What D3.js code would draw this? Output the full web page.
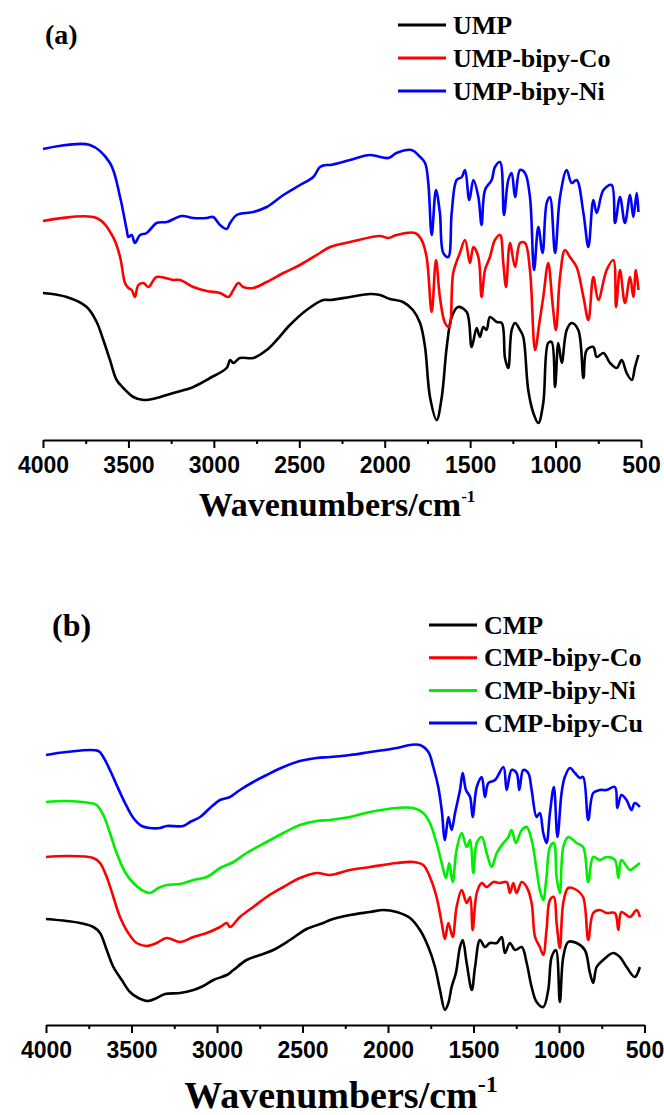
<!DOCTYPE html>
<html>
<head>
<meta charset="utf-8">
<script src="https://cdn.jsdelivr.net/npm/d3@7"></script>
<style>
  html, body { margin: 0; padding: 0; background: #fff; }
  svg { display: block; }
</style>
</head>
<body>
<svg id="chart" width="664" height="1115"></svg>
<script>
// ---------------- DATA (wavenumber cm^-1, transmittance a.u., offset traces) ----------------
const majorTicks = [4000, 3500, 3000, 2500, 2000, 1500, 1000, 500];
const minorTicks = [3750, 3250, 2750, 2250, 1750, 1250, 750];

const seriesNamesA = ["UMP", "UMP-bipy-Co", "UMP-bipy-Ni"];
const seriesColorsA = ["#000000", "#ff0000", "#0000ff"];
const seriesNamesB = ["CMP", "CMP-bipy-Co", "CMP-bipy-Ni", "CMP-bipy-Cu"];
const seriesColorsB = ["#000000", "#ff0000", "#00ee00", "#0000ff"];

// Panel (a)
const umpData = [[4000,147],[3861,143],[3744,133],[3686,118],[3647,100],[3608,80],[3569,60],[3530,52],[3471,43],[3412,40],[3335,42],[3237,47],[3120,53],[3022,62],[2925,72],[2905,80],[2886,77],[2847,82],[2769,82],[2691,90],[2632,100],[2555,115],[2457,130],[2360,140],[2320,140],[2203,143],[2086,146],[2028,145],[1969,141],[1893,138],[1835,130],[1793,117],[1764,93],[1735,43],[1696,20],[1666,43],[1637,93],[1608,123],[1571,133],[1520,128],[1491,93],[1462,112],[1443,103],[1423,113],[1404,110],[1384,123],[1345,118],[1315,117],[1296,82],[1277,72],[1257,110],[1237,117],[1208,110],[1189,103],[1160,50],[1130,27],[1101,17],[1072,37],[1043,97],[1023,98],[1003,53],[984,97],[964,77],[935,110],[906,117],[867,110],[837,62],[818,90],[779,93],[759,83],[720,87],[681,77],[642,72],[613,80],[584,67],[554,60],[535,73],[515,85]];
const umpCoData = [[4000,219],[3686,222],[3590,203],[3549,183],[3520,157],[3500,152],[3481,150],[3462,143],[3442,155],[3412,157],[3383,153],[3335,163],[3237,160],[3198,160],[3120,153],[3042,149],[2964,147],[2915,143],[2886,150],[2857,157],[2828,153],[2769,152],[2691,158],[2593,167],[2496,175],[2379,187],[2320,193],[2203,198],[2028,204],[1979,202],[1931,205],[1823,207],[1784,200],[1755,183],[1725,128],[1700,180],[1677,143],[1647,117],[1623,113],[1599,167],[1560,187],[1530,200],[1501,177],[1481,193],[1452,183],[1433,143],[1413,170],[1384,183],[1355,200],[1325,205],[1306,177],[1290,153],[1267,197],[1237,173],[1208,197],[1179,197],[1150,170],[1120,90],[1095,117],[1072,143],[1043,177],[1018,137],[998,110],[974,163],[945,190],[916,183],[877,173],[837,143],[808,120],[779,163],[750,140],[701,170],[662,180],[646,133],[623,170],[594,137],[564,163],[545,143],[530,170],[515,150]];
const umpNiData = [[4000,291],[3725,295],[3608,277],[3549,243],[3510,210],[3500,203],[3481,205],[3462,197],[3432,205],[3393,207],[3335,217],[3276,218],[3188,224],[3120,222],[3042,222],[3004,223],[2964,215],[2925,211],[2905,217],[2867,225],[2769,228],[2691,233],[2593,245],[2496,255],[2418,263],[2379,273],[2340,275],[2320,275],[2203,280],[2086,285],[1979,282],[1931,287],[1843,290],[1804,285],[1764,277],[1745,257],[1725,205],[1700,250],[1677,227],[1657,187],[1628,183],[1608,227],[1579,260],[1549,263],[1530,270],[1505,240],[1481,260],[1452,243],[1433,215],[1413,250],[1374,260],[1355,273],[1325,278],[1302,225],[1277,260],[1257,267],[1237,243],[1208,270],[1179,267],[1150,243],[1126,170],[1101,213],[1076,187],[1052,237],[1033,243],[1003,187],[974,243],[935,270],[906,257],[877,260],[837,227],[808,193],[779,240],[759,227],[720,250],[672,255],[652,217],[623,243],[594,217],[564,245],[545,223],[525,247],[515,228]];

// Panel (b)
const cmpData = [[4000,106],[3880,104],[3801,102],[3723,98],[3684,92],[3645,75],[3606,58],[3557,45],[3509,33],[3460,27],[3402,24],[3353,27],[3304,31],[3216,32],[3138,35],[3080,39],[3021,45],[2943,50],[2904,55],[2827,65],[2749,70],[2671,75],[2573,85],[2476,96],[2378,102],[2339,105],[2222,110],[2105,113],[2027,115],[1949,113],[1871,107],[1813,95],[1764,78],[1725,58],[1696,35],[1667,15],[1647,22],[1628,38],[1603,52],[1579,78],[1563,85],[1540,62],[1510,35],[1491,58],[1462,85],[1433,78],[1404,82],[1364,82],[1335,88],[1316,72],[1287,82],[1257,75],[1218,78],[1189,62],[1160,38],[1131,23],[1092,18],[1063,35],[1043,68],[1018,75],[995,23],[975,68],[946,83],[897,82],[849,75],[819,52],[800,42],[780,58],[742,65],[683,72],[644,68],[605,58],[557,48],[527,58]];
const cmpCoData = [[4000,168],[3880,169],[3723,167],[3684,162],[3645,148],[3606,128],[3567,108],[3519,92],[3470,82],[3411,79],[3353,82],[3294,87],[3216,83],[3138,88],[3060,92],[2982,98],[2943,102],[2924,98],[2866,108],[2788,118],[2710,128],[2612,138],[2515,147],[2417,152],[2339,150],[2222,155],[2105,158],[1949,162],[1852,163],[1794,160],[1755,148],[1716,128],[1686,102],[1667,86],[1647,102],[1622,88],[1599,118],[1569,135],[1540,122],[1520,128],[1505,95],[1481,132],[1452,142],[1423,138],[1384,143],[1345,142],[1306,143],[1287,132],[1267,142],[1248,132],[1218,143],[1189,138],[1160,122],[1140,88],[1112,78],[1092,70],[1073,95],[1053,125],[1030,128],[1014,102],[995,77],[975,122],[946,137],[897,135],[859,128],[829,85],[800,112],[761,115],[722,112],[673,112],[653,95],[635,113],[585,108],[546,115],[527,108]];
const cmpNiData = [[4000,223],[3880,224],[3743,222],[3704,220],[3665,210],[3626,192],[3587,172],[3538,153],[3489,142],[3440,135],[3392,132],[3343,137],[3294,140],[3216,141],[3138,145],[3060,148],[2982,157],[2904,163],[2827,172],[2710,183],[2612,192],[2515,200],[2417,204],[2339,205],[2222,208],[2105,213],[1949,217],[1852,217],[1794,212],[1755,202],[1716,182],[1686,162],[1661,147],[1642,162],[1622,143],[1599,175],[1569,192],[1540,178],[1520,185],[1501,152],[1481,182],[1452,188],[1423,172],[1394,158],[1364,172],[1325,182],[1296,188],[1277,195],[1252,182],[1218,195],[1189,198],[1160,185],[1131,155],[1112,135],[1092,125],[1073,148],[1053,178],[1030,182],[1014,148],[995,132],[975,178],[946,188],[897,182],[859,178],[829,143],[800,168],[761,165],[722,168],[673,165],[653,147],[635,165],[585,155],[557,158],[527,162]];
const cmpCuData = [[4000,270],[3880,273],[3694,274],[3665,268],[3626,255],[3587,240],[3538,222],[3489,207],[3440,199],[3392,197],[3333,197],[3294,199],[3197,199],[3158,203],[3099,208],[3041,217],[2982,225],[2924,228],[2866,235],[2788,243],[2710,250],[2612,258],[2515,264],[2417,267],[2339,268],[2222,270],[2105,273],[1949,277],[1871,280],[1813,280],[1764,273],[1735,258],[1706,238],[1686,215],[1667,185],[1647,208],[1628,195],[1608,212],[1579,235],[1563,252],[1544,235],[1520,228],[1505,208],[1481,238],[1452,248],[1433,228],[1413,242],[1374,245],[1325,258],[1306,235],[1277,255],[1248,252],[1232,235],[1209,255],[1180,252],[1160,235],[1131,208],[1112,212],[1092,192],[1073,182],[1053,212],[1030,238],[1009,188],[985,232],[966,248],[936,257],[907,252],[878,247],[859,248],[829,205],[800,232],[761,235],[722,235],[673,238],[659,217],[635,230],[605,225],[576,215],[557,222],[527,218]];

// ---------------- DRAW ----------------
const svg = d3.select("#chart");

function drawPanel(cfg) {
  const g = svg.append("g");
  const x = d3.scaleLinear().domain([4000, 500]).range([cfg.x0, cfg.x1]);
  const y = d3.scaleLinear().domain([0, 300]).range([cfg.axisY, cfg.axisY - 300]);

  const line = d3.line()
    .x(d => x(d[0]))
    .y(d => y(d[1]))
    .curve(d3.curveCatmullRom.alpha(0.5));

  cfg.series.forEach((s, i) => {
    g.append("path")
      .datum(s)
      .attr("fill", "none")
      .attr("stroke", cfg.colors[i])
      .attr("stroke-width", 2.6)
      .attr("stroke-linejoin", "round")
      .attr("d", line);
  });

  // minor ticks
  const minor = g.append("g")
    .attr("transform", `translate(0,${cfg.axisY})`)
    .call(d3.axisBottom(x).tickValues(minorTicks).tickSize(4).tickSizeOuter(0).tickFormat(""));
  minor.select(".domain").remove();
  minor.selectAll(".tick line").attr("stroke", "#000").attr("stroke-width", 2);

  const ax = g.append("g")
    .attr("transform", `translate(0,${cfg.axisY})`)
    .call(d3.axisBottom(x).tickValues(majorTicks).tickSize(8).tickSizeOuter(0).tickPadding(9).tickFormat(d3.format("d")));
  ax.select(".domain").attr("stroke", "#000").attr("stroke-width", 2.2);
  ax.selectAll(".tick line").attr("stroke", "#000").attr("stroke-width", 2);
  ax.selectAll(".tick text")
    .attr("fill", "#000")
    .style("font-family", "'Liberation Sans', Arial, sans-serif")
    .style("font-weight", "bold")
    .style("font-size", "23px");

  // axis title
  const t = g.append("text")
    .attr("x", cfg.titleX)
    .attr("y", cfg.titleY)
    .attr("text-anchor", "middle")
    .style("font-family", "'Liberation Serif', 'Times New Roman', serif")
    .style("font-weight", "bold")
    .style("font-size", cfg.titleSize + "px")
    .attr("fill", "#000");
  t.append("tspan").text("Wavenumbers/cm");
  t.append("tspan").attr("dy", -cfg.titleSize * 0.42).style("font-size", cfg.supSize + "px").text("-1");

  // panel label
  g.append("text")
    .attr("x", cfg.labelX)
    .attr("y", cfg.labelY)
    .style("font-family", "'Liberation Serif', 'Times New Roman', serif")
    .style("font-weight", "bold")
    .style("font-size", cfg.labelSize + "px")
    .attr("fill", "#000")
    .text(cfg.label);

  // legend
  cfg.names.forEach((n, i) => {
    const ly = cfg.legY + i * cfg.legStep;
    g.append("line")
      .attr("x1", cfg.legX).attr("x2", cfg.legX + 48)
      .attr("y1", ly).attr("y2", ly)
      .attr("stroke", cfg.colors[i]).attr("stroke-width", 3);
    g.append("text")
      .attr("x", cfg.legX + 55)
      .attr("y", ly + 8.5)
      .style("font-family", "'Liberation Serif', 'Times New Roman', serif")
      .style("font-weight", "bold")
      .style("font-size", "26px")
      .attr("fill", "#000")
      .text(n);
  });
}

drawPanel({
  x0: 43, x1: 641, axisY: 440,
  series: [umpData, umpCoData, umpNiData],
  colors: seriesColorsA, names: seriesNamesA,
  titleX: 337, titleY: 516, titleSize: 34, supSize: 17,
  label: "(a)", labelX: 45, labelY: 44, labelSize: 28,
  legX: 398, legY: 25, legStep: 33
});

drawPanel({
  x0: 46, x1: 644.5, axisY: 1025,
  series: [cmpData, cmpCoData, cmpNiData, cmpCuData],
  colors: seriesColorsB, names: seriesNamesB,
  titleX: 341, titleY: 1108, titleSize: 38, supSize: 24,
  label: "(b)", labelX: 52, labelY: 636, labelSize: 32,
  legX: 429, legY: 625, legStep: 32.7
});
</script>
</body>
</html>
